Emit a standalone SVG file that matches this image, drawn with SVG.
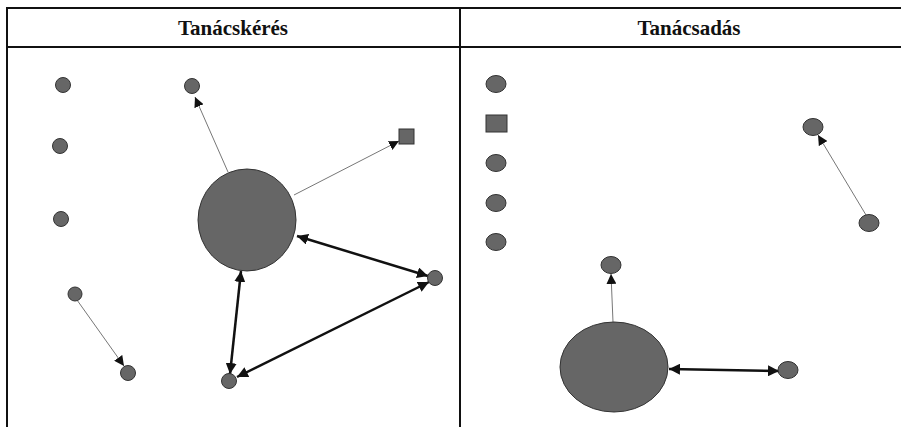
<svg xmlns="http://www.w3.org/2000/svg" width="901" height="427" viewBox="0 0 901 427">
<style>
.n{fill:#666;stroke:#333;stroke-width:1}
.thin{stroke:#777;stroke-width:1;fill:none}
.thick{stroke:#111;stroke-width:2.5;fill:none}
.b{stroke:#111;stroke-width:2;fill:none}
.h{font-family:"Liberation Serif","DejaVu Serif",serif;font-weight:bold;font-size:21px;fill:#111;text-anchor:middle}
</style>
<defs>
<marker id="a" viewBox="0 0 10 10" refX="10" refY="5" markerWidth="10" markerHeight="10" markerUnits="userSpaceOnUse" orient="auto-start-reverse"><path d="M0,0 L10,5 L0,10 z" fill="#111"/></marker>
<marker id="ab" viewBox="0 0 10 10" refX="10" refY="5" markerWidth="11" markerHeight="11" markerUnits="userSpaceOnUse" orient="auto-start-reverse"><path d="M0,0 L10,5 L0,10 z" fill="#111"/></marker>
</defs>
<rect width="901" height="427" fill="#fff"/>
<g id="table">
<line class="b" x1="6" y1="8" x2="901" y2="8"/>
<line class="b" x1="6" y1="47" x2="901" y2="47"/>
<line class="b" x1="7" y1="7" x2="7" y2="427"/>
<line class="b" x1="460" y1="8" x2="460" y2="427"/>
<text class="h" x="233" y="35">Tanácskérés</text>
<text class="h" x="689" y="35">Tanácsadás</text>
</g>
<g id="connectors">
<line class="thin" x1="228" y1="172" x2="195" y2="97" marker-end="url(#a)"/>
<line class="thin" x1="294" y1="195" x2="399" y2="141" marker-end="url(#a)"/>
<line class="thick" x1="297" y1="236" x2="428" y2="276" marker-start="url(#ab)" marker-end="url(#ab)"/>
<line class="thick" x1="241" y1="271" x2="230" y2="374" marker-start="url(#ab)" marker-end="url(#ab)"/>
<line class="thick" x1="237" y1="377" x2="429" y2="282" marker-start="url(#ab)" marker-end="url(#ab)"/>
<line class="thin" x1="77" y1="300" x2="124" y2="366" marker-end="url(#a)"/>
<line class="thin" x1="866" y1="215" x2="818" y2="135" marker-end="url(#a)"/>
<line class="thin" x1="613" y1="322" x2="611" y2="274" marker-end="url(#a)"/>
<line class="thick" x1="669" y1="369" x2="779" y2="371" marker-start="url(#ab)" marker-end="url(#ab)"/>
</g>
<g id="n1"><ellipse class="n" cx="63" cy="85" rx="7.5" ry="7.5"/></g>
<g id="n2"><ellipse class="n" cx="60" cy="146" rx="7.5" ry="7.5"/></g>
<g id="n3"><ellipse class="n" cx="61" cy="219" rx="7.5" ry="7.5"/></g>
<g id="n4"><ellipse class="n" cx="75" cy="294" rx="7" ry="7"/></g>
<g id="n5"><ellipse class="n" cx="128" cy="373" rx="7.5" ry="7.5"/></g>
<g id="n6"><ellipse class="n" cx="192" cy="86" rx="7.5" ry="7.5"/></g>
<g id="n7"><ellipse class="n" cx="229" cy="381" rx="7.5" ry="7.5"/></g>
<g id="n8"><ellipse class="n" cx="435" cy="278" rx="7.5" ry="7.5"/></g>
<g id="n9"><ellipse class="n" cx="247" cy="220" rx="49" ry="51"/></g>
<g id="n10"><rect class="n" x="399" y="129" width="15" height="15"/></g>
<g id="m1"><ellipse class="n" cx="496" cy="84" rx="10" ry="8.5"/></g>
<g id="m2"><rect class="n" x="486" y="115" width="21" height="17"/></g>
<g id="m3"><ellipse class="n" cx="496" cy="163" rx="10" ry="8.5"/></g>
<g id="m4"><ellipse class="n" cx="496" cy="203" rx="10" ry="8.5"/></g>
<g id="m5"><ellipse class="n" cx="496" cy="242" rx="10" ry="8.5"/></g>
<g id="m6"><ellipse class="n" cx="813" cy="127" rx="10" ry="8.5"/></g>
<g id="m7"><ellipse class="n" cx="869" cy="223" rx="10" ry="8.5"/></g>
<g id="m8"><ellipse class="n" cx="611" cy="265" rx="10" ry="8.5"/></g>
<g id="m9"><ellipse class="n" cx="614" cy="367" rx="54" ry="45"/></g>
<g id="m10"><ellipse class="n" cx="788" cy="370" rx="10" ry="8.5"/></g>
</svg>
